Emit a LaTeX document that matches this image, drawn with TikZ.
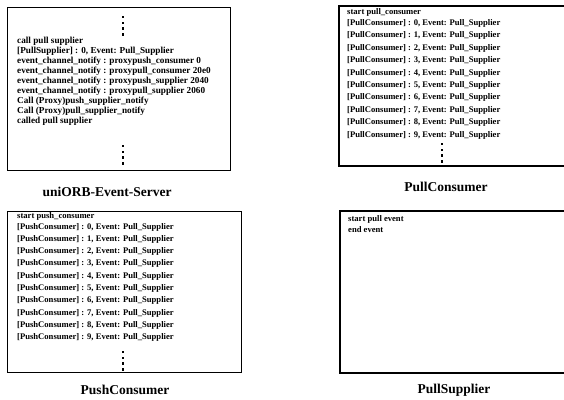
\documentclass[tikz,border=0pt]{standalone}
\usepackage{fontspec}
\setmainfont{Liberation Serif}
\begin{document}
\begin{tikzpicture}[x=1pt,y=-1pt,
  boxline/.style={line width=1.1pt},
  txt/.style={anchor=west,inner sep=0pt,font=\fontsize{8.6}{9}\selectfont\bfseries},
  txtbig/.style={txt,font=\fontsize{9.2}{9.5}\selectfont\bfseries},
  boxcaption/.style={inner sep=0pt,font=\fontsize{13.5}{14}\selectfont\bfseries},
  dotmark/.style={fill=black,minimum size=2.4pt,inner sep=0pt,draw=none,rectangle}]
\useasboundingbox (0,0) rectangle (564,399);
% box 1
\node[draw,boxline,minimum width=223pt,minimum height=163pt,anchor=north west,inner sep=0pt] (b1) at (7,7) {};
\foreach \k in {0,...,3} \node[dotmark] (d1a\k) at (123,{17+5.8*\k}) {};
\foreach \t [count=\i from 0] in {call pull supplier,
  {[PullSupplier] : 0, Event: Pull\_Supplier},
  event\_channel\_notify : proxypush\_consumer 0,
  event\_channel\_notify : proxypull\_consumer 20e0,
  event\_channel\_notify : proxypush\_supplier 2040,
  event\_channel\_notify : proxypull\_supplier 2060,
  Call (Proxy)push\_supplier\_notify,
  Call (Proxy)pull\_supplier\_notify,
  called pull supplier}
  \node[txtbig] (t1\i) at (17,{41+10*\i}) {\t};
\foreach \k in {0,...,3} \node[dotmark] (d1b\k) at (123,{146+5.8*\k}) {};
\node[boxcaption] (c1) at (107,192) {uniORB-Event-Server};
% box 2 (open to the right)
\coordinate (b2a) at (564,6);
\coordinate (b2b) at (339,6);
\coordinate (b2c) at (339,166);
\coordinate (b2d) at (564,166);
\draw[boxline] (b2a) -- (b2b) -- (b2c) -- (b2d);
\node[txt] (t2s) at (347,12) {start pull\_consumer};
\foreach \i in {0,...,9}
  \node[txt] (t2\i) at (347,{23.5+12.4*\i}) {[PullConsumer] : \i, Event: Pull\_Supplier};
\foreach \k in {0,...,3} \node[dotmark] (d2\k) at (442,{144+5.8*\k}) {};
\node[boxcaption] (c2) at (446,187) {PullConsumer};
% box 3
\node[draw,boxline,minimum width=234pt,minimum height=161pt,anchor=north west,inner sep=0pt] (b3) at (7,211) {};
\node[txt] (t3s) at (17,216) {start push\_consumer};
\foreach \i in {0,...,9}
  \node[txt] (t3\i) at (17,{227+12.3*\i}) {[PushConsumer] : \i, Event: Pull\_Supplier};
\foreach \k in {0,...,3} \node[dotmark] (d3\k) at (123,{352+5.8*\k}) {};
\node[boxcaption] (c3) at (125,390) {PushConsumer};
% box 4 (open to the right)
\coordinate (b4a) at (564,211);
\coordinate (b4b) at (340,211);
\coordinate (b4c) at (340,373);
\coordinate (b4d) at (564,373);
\draw[boxline] (b4a) -- (b4b) -- (b4c) -- (b4d);
\node[txt] (t4a) at (348,219) {start pull event};
\node[txt] (t4b) at (348,230) {end event};
\node[boxcaption] (c4) at (454,390) {PullSupplier};
\end{tikzpicture}
\end{document}
